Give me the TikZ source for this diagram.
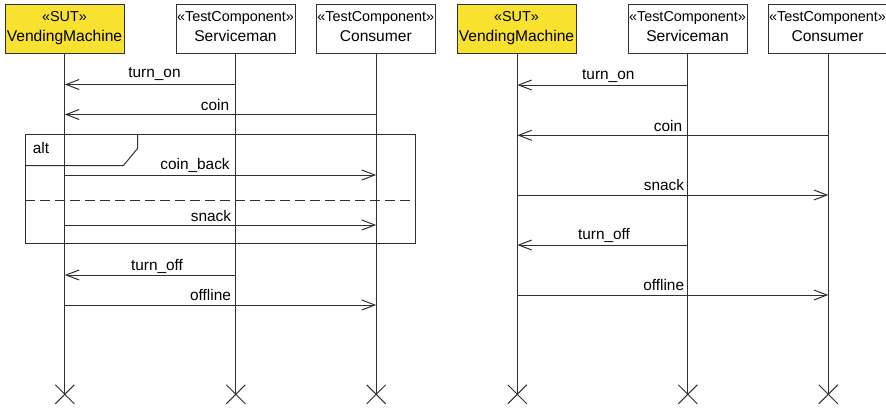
\documentclass[tikz,border=0pt]{standalone}
\usepackage{fontspec}
\setmainfont{Liberation Sans}
\usetikzlibrary{arrows.meta}
\definecolor{sutyellow}{HTML}{F8E12F}
\definecolor{ink}{HTML}{303030}
\tikzset{
  head/.style={draw=ink, line width=1pt, minimum width=119pt, minimum height=48.5pt, inner sep=0pt, fill=white},
  sut/.style={head, fill=sutyellow},
  stereo/.style={anchor=base, inner sep=0pt, text=black, font=\fontsize{14.4}{16}\selectfont},
  hname/.style={anchor=base, inner sep=0pt, text=black, font=\fontsize{15.6}{18}\selectfont},
  lbl/.style={anchor=base, inner sep=0pt, text=black, font=\fontsize{15.4}{18}\selectfont},
  lifeline/.style={draw=ink, line width=1pt},
  msg/.style={draw=ink, line width=1pt, -{Straight Barb[length=13pt,width=10pt,line width=1pt]}},
  frame/.style={draw=ink, line width=1pt},
  sep/.style={draw=ink, line width=1pt, dash pattern=on 10pt off 5pt},
}
\begin{document}
\begin{tikzpicture}[x=1pt,y=-1pt]
\useasboundingbox (0,0) rectangle (886,407);
% ---------- left diagram ----------
\node[sut]  (vmA) at (64.8,28.8) {};
\node[head] (svA) at (235.8,28.8) {};
\node[head] (coA) at (376.2,28.8) {};
\node[stereo] at (64.5,21.7) {«SUT»};
\node[hname]  at (64.5,41.7) {VendingMachine};
\node[stereo] at (235.5,21.7) {«TestComponent»};
\node[hname]  at (235.5,41.7) {Serviceman};
\node[stereo] at (375.8,21.7) {«TestComponent»};
\node[hname]  at (375.8,41.7) {Consumer};
\coordinate (vmAend) at (vmA.south |- 0,394.3);
\coordinate (svAend) at (svA.south |- 0,394.3);
\coordinate (coAend) at (coA.south |- 0,394.3);
\foreach \n in {vmA,svA,coA}{
  \draw[lifeline] (\n.south) -- (\n end);
  \draw[lifeline] (\n end) +(-9.5,-9.5) -- +(9.5,9.5);
  \draw[lifeline] (\n end) +(-9.5,9.5) -- +(9.5,-9.5);
}
% alt frame
\draw[frame] (25,134.3) rectangle (415.5,243.8);
\draw[frame] (137.7,134.3) -- (137.7,148.3) -- (123.3,165.7) -- (25,165.7);
\node[lbl] at (41,153.3) {alt};
\draw[sep] (25,200.7) -- (415.5,200.7);
% messages
\draw[msg] (svA |- 0,84.5) -- (vmA |- 0,84.5);
\node[lbl] at (154.5,77.5) {turn\_on};
\draw[msg] (coA |- 0,114.5) -- (vmA |- 0,114.5);
\node[lbl] at (215,110) {coin};
\draw[msg] (vmA |- 0,175) -- (coA |- 0,175);
\node[lbl] at (195,169.5) {coin\_back};
\draw[msg] (vmA |- 0,225) -- (coA |- 0,225);
\node[lbl] at (211,221) {snack};
\draw[msg] (svA |- 0,275) -- (vmA |- 0,275);
\node[lbl] at (157,270) {turn\_off};
\draw[msg] (vmA |- 0,305) -- (coA |- 0,305);
\node[lbl] at (210.5,300) {offline};
% ---------- right diagram ----------
\node[sut]  (vmB) at (517.3,28.8) {};
\node[head] (svB) at (687.8,28.8) {};
\node[head] (coB) at (828.3,28.8) {};
\node[stereo] at (516.5,21.7) {«SUT»};
\node[hname]  at (516.5,41.7) {VendingMachine};
\node[stereo] at (687.5,21.7) {«TestComponent»};
\node[hname]  at (687.5,41.7) {Serviceman};
\node[stereo] at (827.5,21.7) {«TestComponent»};
\node[hname]  at (827.5,41.7) {Consumer};
\coordinate (vmBend) at (vmB.south |- 0,394.3);
\coordinate (svBend) at (svB.south |- 0,394.3);
\coordinate (coBend) at (coB.south |- 0,394.3);
\foreach \n in {vmB,svB,coB}{
  \draw[lifeline] (\n.south) -- (\n end);
  \draw[lifeline] (\n end) +(-9.5,-9.5) -- +(9.5,9.5);
  \draw[lifeline] (\n end) +(-9.5,9.5) -- +(9.5,-9.5);
}
\draw[msg] (svB |- 0,85) -- (vmB |- 0,85);
\node[lbl] at (608.3,79.5) {turn\_on};
\draw[msg] (coB |- 0,135.3) -- (vmB |- 0,135.3);
\node[lbl] at (668,131) {coin};
\draw[msg] (vmB |- 0,195) -- (coB |- 0,195);
\node[lbl] at (664,190.7) {snack};
\draw[msg] (svB |- 0,245) -- (vmB |- 0,245);
\node[lbl] at (604,239.5) {turn\_off};
\draw[msg] (vmB |- 0,295) -- (coB |- 0,295);
\node[lbl] at (663.7,290) {offline};
\end{tikzpicture}
\end{document}
